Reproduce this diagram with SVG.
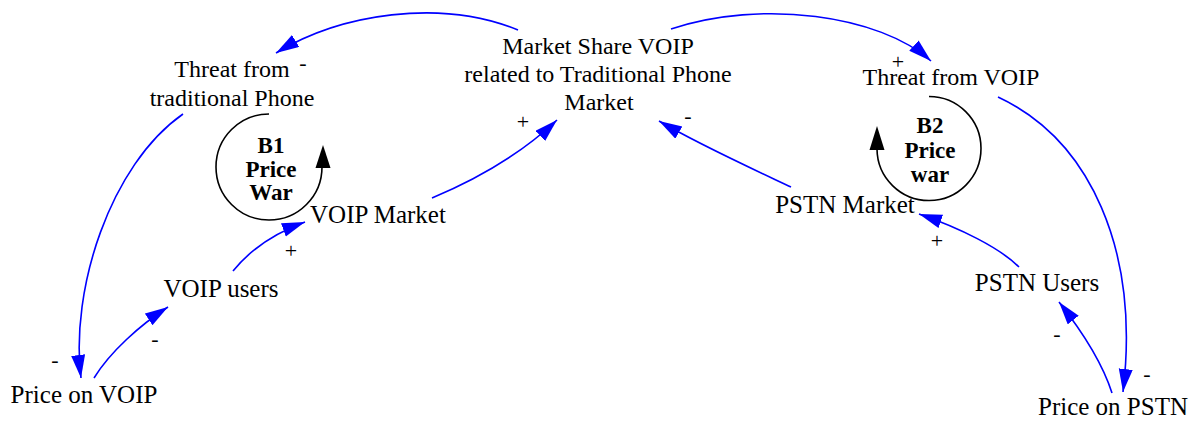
<svg xmlns="http://www.w3.org/2000/svg" width="1197" height="421" viewBox="0 0 1197 421">
<style>
text{font-family:'Liberation Serif','DejaVu Serif',serif;fill:#000;text-anchor:middle}
.lbl{font-size:24px}
.lbl1{font-size:25px}
.pol{font-size:22px}
.loop{font-size:23px;font-weight:bold}
.lk{fill:none;stroke:#0000FF;stroke-width:1.6;marker-end:url(#ah)}
.lc{fill:none;stroke:#000;stroke-width:1.6}
</style>
<defs>
<marker id="ah" markerUnits="userSpaceOnUse" markerWidth="24" markerHeight="15" refX="23" refY="7" orient="auto">
<path d="M0,0 L23,7 L0,14 z" fill="#0000FF"/>
</marker>
</defs>
<rect width="1197" height="421" fill="#fff"/>
<g id="connectors">
<path class="lk" d="M518,30 C440,-2 340,14 276,53"/>
<path class="lk" d="M671,29 C761,-1 880,15 931,61"/>
<path class="lk" d="M183,114 C110,165 70,290 81,378"/>
<path class="lk" d="M94,378 C110,352 140,325 168,307"/>
<path class="lk" d="M233,271 C250,250 275,233 305,222"/>
<path class="lk" d="M432,198 C475,180 520,155 557,120"/>
<path class="lk" d="M791,187 C755,170 700,145 659,121"/>
<path class="lk" d="M1019,267 C1000,248 960,228 919,214"/>
<path class="lk" d="M1112,393 C1103,365 1085,335 1059,302"/>
<path class="lk" d="M998,97 C1090,140 1140,250 1123,392"/>
</g>
<g id="polarities">
<text class="pol" x="303" y="70">-</text>
<text class="pol" x="523" y="129">+</text>
<text class="pol" x="688" y="123">-</text>
<text class="pol" x="898" y="69">+</text>
<text class="pol" x="291" y="258">+</text>
<text class="pol" x="155" y="346">-</text>
<text class="pol" x="55" y="367">-</text>
<text class="pol" x="937" y="248">+</text>
<text class="pol" x="1057" y="341">-</text>
<text class="pol" x="1147" y="381">-</text>
</g>
<g id="loop-B1">
<path class="lc" d="M269,114 A53,53 0 1 0 322,167"/>
<polygon points="323,145 315.5,168 330.5,168" fill="#000"/>
<text class="loop" x="271" y="153">B1</text>
<text class="loop" x="271" y="177">Price</text>
<text class="loop" x="271" y="200">War</text>
</g>
<g id="loop-B2">
<path class="lc" d="M929,96.5 A52,52 0 1 1 877,149"/>
<polygon points="877,126 869.5,150 884.5,150" fill="#000"/>
<text class="loop" x="930" y="133">B2</text>
<text class="loop" x="930" y="158">Price</text>
<text class="loop" x="930" y="182">war</text>
</g>
<g id="node-market-share">
<text class="lbl" x="598" y="54">Market Share VOIP</text>
<text class="lbl" x="598" y="82">related to Traditional Phone</text>
<text class="lbl" x="599" y="110">Market</text>
</g>
<g id="node-threat-traditional">
<text class="lbl" x="232" y="77">Threat from</text>
<text class="lbl" x="232" y="106">traditional Phone</text>
</g>
<g id="node-threat-voip">
<text class="lbl" x="951" y="85">Threat from VOIP</text>
</g>
<g id="node-voip-market">
<text class="lbl1" x="378" y="223">VOIP Market</text>
</g>
<g id="node-voip-users">
<text class="lbl1" x="221" y="297">VOIP users</text>
</g>
<g id="node-price-voip">
<text class="lbl1" x="84" y="403">Price on VOIP</text>
</g>
<g id="node-pstn-market">
<text class="lbl1" x="845" y="213">PSTN Market</text>
</g>
<g id="node-pstn-users">
<text class="lbl1" x="1037" y="291">PSTN Users</text>
</g>
<g id="node-price-pstn">
<text class="lbl1" x="1113" y="415">Price on PSTN</text>
</g>
</svg>
